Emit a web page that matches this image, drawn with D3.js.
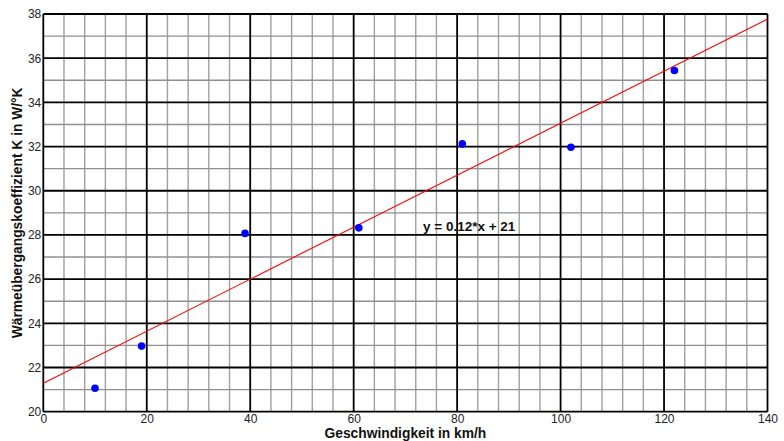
<!DOCTYPE html>
<html>
<head>
<meta charset="utf-8">
<script src="https://cdn.jsdelivr.net/npm/d3@7"></script>
<style>
  html, body { margin: 0; padding: 0; background: #fff; }
  svg { display: block; font-family: "Liberation Sans", Arial, sans-serif; }
</style>
</head>
<body>
<svg id="chart" width="784" height="441"></svg>
<script>
// measured points: speed (km/h) vs. heat transfer coefficient
var speedKmh = [10, 19, 39, 61, 81, 102, 122];
var coeffK   = [21.06, 22.97, 28.07, 28.32, 32.12, 31.97, 35.44];

// fitted trend line as drawn (end points)
var trendX = [0, 140];
var trendY = [21.29, 37.77];

var xTicks = [0, 20, 40, 60, 80, 100, 120, 140];
var yTicks = [20, 22, 24, 26, 28, 30, 32, 34, 36, 38];

var fitLabel = 'y = 0.12*x + 21';
var xTitle = 'Geschwindigkeit in km/h';
var yTitle = 'Wärmeübergangskoeffizient K in W/°K';

(function () {
  'use strict';

  var svg = d3.select('#chart');
  var L = 43.3, R = 767.5, T = 14, B = 411.7;

  var x = d3.scaleLinear().domain([0, 140]).range([L, R]);
  var y = d3.scaleLinear().domain([20, 38]).range([B, T]);

  // minor grid: x every 4, y every 1
  var xMinor = d3.range(0, 141, 4).filter(function (v) { return v % 20 !== 0; });
  var yMinor = d3.range(20, 39, 1).filter(function (v) { return v % 2 !== 0; });

  var grid = svg.append('g');
  grid.selectAll('line.vx').data(xMinor).enter().append('line')
    .attr('x1', x).attr('x2', x).attr('y1', T).attr('y2', B)
    .attr('stroke', '#a0a0a0').attr('stroke-width', 1.4);
  grid.selectAll('line.hy').data(yMinor).enter().append('line')
    .attr('y1', y).attr('y2', y).attr('x1', L).attr('x2', R)
    .attr('stroke', '#909090').attr('stroke-width', 1.4);

  // major grid
  grid.selectAll('line.vmaj').data(xTicks).enter().append('line')
    .attr('x1', x).attr('x2', x).attr('y1', T).attr('y2', B)
    .attr('stroke', '#000').attr('stroke-width', 1.8);
  grid.selectAll('line.hmaj').data(yTicks).enter().append('line')
    .attr('y1', y).attr('y2', y).attr('x1', L).attr('x2', R)
    .attr('stroke', '#000').attr('stroke-width', 1.8);

  // axes (labels only, ticks are the grid)
  var xAxis = svg.append('g').attr('transform', 'translate(0,' + B + ')')
    .call(d3.axisBottom(x).tickValues(xTicks).tickSize(0).tickPadding(3));
  xAxis.select('.domain').remove();
  xAxis.selectAll('text').attr('font-size', '12px').attr('fill', '#222')
    .attr('font-family', '"Liberation Sans", Arial, sans-serif');

  var yAxis = svg.append('g').attr('transform', 'translate(' + (L - 2) + ',0)')
    .call(d3.axisLeft(y).tickValues(yTicks).tickSize(0).tickPadding(0));
  yAxis.select('.domain').remove();
  yAxis.selectAll('text').attr('font-size', '12px').attr('fill', '#222')
    .attr('font-family', '"Liberation Sans", Arial, sans-serif');

  // trend line
  var line = d3.line()
    .x(function (d, i) { return x(trendX[i]); })
    .y(function (d) { return y(d); });
  svg.append('path').datum(trendY)
    .attr('d', line)
    .attr('fill', 'none').attr('stroke', '#ff0000').attr('stroke-width', 1.1);

  // data points
  svg.append('g').selectAll('circle').data(speedKmh).enter().append('circle')
    .attr('cx', function (d) { return x(d); })
    .attr('cy', function (d, i) { return y(coeffK[i]); })
    .attr('r', 3.8)
    .attr('fill', '#0000ff');

  // fit annotation
  svg.append('text')
    .attr('x', 423).attr('y', 230.5)
    .attr('font-size', '13.5px').attr('font-weight', 'bold').attr('fill', '#111')
    .text(fitLabel);

  // axis titles
  svg.append('text')
    .attr('x', (L + R) / 2).attr('y', 437.5)
    .attr('text-anchor', 'middle')
    .attr('font-size', '13.8px').attr('font-weight', 'bold').attr('fill', '#111')
    .text(xTitle);

  svg.append('text')
    .attr('transform', 'translate(22,' + ((T + B) / 2) + ') rotate(-90)')
    .attr('text-anchor', 'middle')
    .attr('font-size', '13.8px').attr('font-weight', 'bold').attr('fill', '#111')
    .text(yTitle);
})();
</script>
</body>
</html>
